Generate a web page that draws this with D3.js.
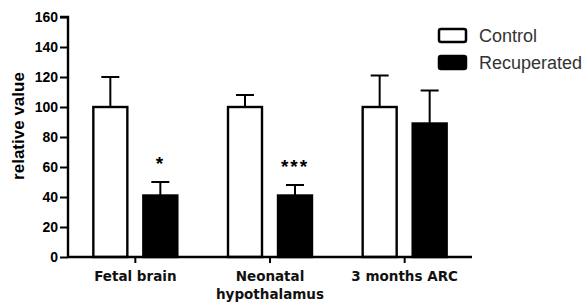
<!DOCTYPE html>
<html><head><meta charset="utf-8">
<script src="https://cdn.jsdelivr.net/npm/d3@7"></script>
<style>body{margin:0;background:#fff}svg{display:block}</style>
</head><body>
<script>
const categories = [["Fetal brain"], ["Neonatal", "hypothalamus"], ["3 months ARC"]];
const series = ["Control", "Recuperated"];
const controlMean = [100, 100, 100];
const controlErr = [20, 8, 21];
const recupMean = [41, 41, 89];
const recupErr = [9, 7, 22];
const stars = ["*", "***", ""];
const yTicks = [0, 20, 40, 60, 80, 100, 120, 140, 160];

const W = 586, H = 307;
const svg = d3.select("body").append("svg").attr("width", W).attr("height", H);
const x0 = 68, x1 = 472, yTop = 17, yBot = 257;
const x = d3.scaleBand().domain(d3.range(3)).range([x0, x1]);
const y = d3.scaleLinear().domain([0, 160]).range([yBot, yTop]);

const g = svg.append("g");
const data = d3.range(3).flatMap(i => [
  {i, s: "Control", m: controlMean[i], e: controlErr[i]},
  {i, s: "Recuperated", m: recupMean[i], e: recupErr[i]}
]);
const bw = 34;
data.forEach(d => {
  const cx = x(d.i) + x.bandwidth() / 2 + (d.s === "Control" ? -25 : 25);
  g.append("line").attr("x1", cx).attr("x2", cx).attr("y1", y(d.m)).attr("y2", y(d.m + d.e))
    .attr("stroke", "#000").attr("stroke-width", 2);
  g.append("line").attr("x1", cx - 9).attr("x2", cx + 9).attr("y1", y(d.m + d.e)).attr("y2", y(d.m + d.e))
    .attr("stroke", "#000").attr("stroke-width", 2);
  g.append("rect").attr("x", cx - bw / 2).attr("width", bw).attr("y", y(d.m)).attr("height", y(0) - y(d.m))
    .attr("fill", d.s === "Control" ? "#fff" : "#000").attr("stroke", "#000").attr("stroke-width", 2.4);
});

// stars
d3.range(3).forEach(i => {
  if (!stars[i]) return;
  const cx = x(i) + x.bandwidth() / 2 + 25;
  g.append("text").attr("x", cx).attr("y", y(recupMean[i] + recupErr[i]) - 12)
    .attr("text-anchor", "middle").attr("font-family", "Liberation Sans, Arial").attr("font-weight", "bold")
    .attr("font-size", 19).attr("letter-spacing", 2).text(stars[i]);
});

// y axis
const ya = svg.append("g").attr("transform", `translate(${x0},0)`)
  .call(d3.axisLeft(y).tickValues(yTicks).tickSize(8).tickPadding(2));
ya.select(".domain").attr("stroke-width", 2.4).attr("d", `M-8,${yTop}H0V${yBot}`);
ya.selectAll(".tick line").attr("stroke-width", 2);
ya.selectAll(".tick text").attr("font-family", "Liberation Sans, Arial").attr("font-weight", "bold")
  .attr("font-size", 14).attr("fill", "#000");

// x axis
const xa = svg.append("g").attr("transform", `translate(0,${yBot})`)
  .call(d3.axisBottom(x).tickSize(6).tickFormat(""));
xa.select(".domain").attr("stroke-width", 2.4).attr("d", `M${x0},0H${x1}`);
xa.selectAll(".tick line").attr("stroke-width", 2);
d3.range(3).forEach(i => {
  const t = svg.append("text").attr("x", x(i) + x.bandwidth() / 2).attr("y", yBot + 24)
    .attr("text-anchor", "middle").attr("font-family", "DejaVu Sans").attr("font-weight", "bold")
    .attr("font-size", 13.5).attr("fill", "#111");
  categories[i].forEach((ln, k) => t.append("tspan").attr("x", x(i) + x.bandwidth() / 2).attr("dy", k ? 18 : 0).text(ln));
});

// y title
svg.append("text").attr("transform", `translate(24,${126}) rotate(-90)`)
  .attr("text-anchor", "middle").attr("font-family", "Liberation Sans, Arial").attr("font-weight", "bold")
  .attr("font-size", 17).text("relative value");

// legend
series.forEach((s, k) => {
  const ly = 29 + k * 27;
  svg.append("rect").attr("x", 439).attr("y", ly).attr("width", 27).attr("height", 13).attr("rx", 2)
    .attr("fill", s === "Control" ? "#fff" : "#000").attr("stroke", "#000").attr("stroke-width", 2.5);
  svg.append("text").attr("x", 479).attr("y", ly + 13).attr("font-family", "Liberation Sans, Arial")
    .attr("font-size", 18).attr("fill", "#333").text(s);
});
</script>
</body></html>
